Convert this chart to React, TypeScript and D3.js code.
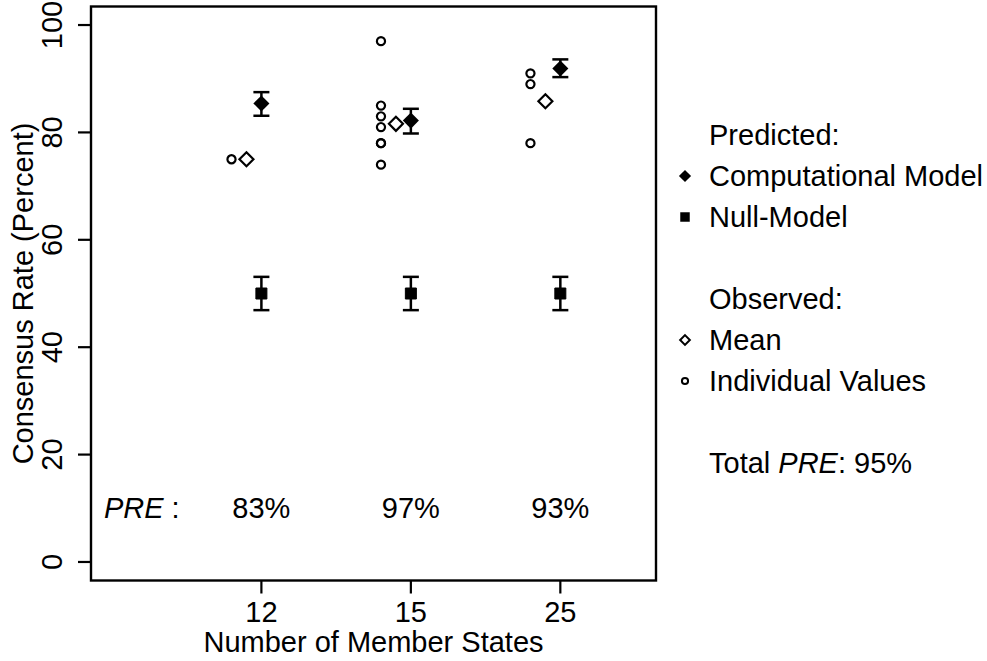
import React, { useEffect } from "react";
import * as d3 from "d3";

// group labels on the x axis
const categories = ["12", "15", "25"];
// predicted by the computational model, with error bars
const predicted = [85.4, 82.2, 91.9];
const predictedLow = [83.1, 79.8, 90.3];
const predictedHigh = [87.5, 84.4, 93.6];
// null model, with error bars
const nullModel = [50, 50, 50];
const nullLow = [46.9, 46.9, 46.9];
const nullHigh = [53.1, 53.1, 53.1];
// observed
const observedMean = [75, 81.6, 85.8];
const individual = [[75], [97, 85, 83, 81, 78, 78, 74], [91, 89, 78]];
const preLabels = ["83%", "97%", "93%"];
const totalPre = "95%";
const yTicks = [0, 20, 40, 60, 80, 100];

const W = 987;
const H = 661;
const FONT = "'Liberation Sans', Arial, Helvetica, sans-serif";
const FS = 29;

const box = { left: 91, right: 656, top: 6.5, bottom: 580.5 };

export default function App() {
  useEffect(() => {
    document.body.style.margin = "0";
  }, []);

  const x = d3.scaleLinear().domain([-0.14, 3.64]).range([box.left, box.right]);
  const y = d3.scaleLinear().domain([-3.45, 103.45]).range([box.bottom, box.top]);

  const diamondBig = d3.symbol().type(d3.symbolDiamond2).size(165)()!;
  const diamondOpen = d3.symbol().type(d3.symbolDiamond2).size(125)()!;
  const square = d3.symbol().type(d3.symbolSquare).size(121)()!;
  const circle = d3.symbol().type(d3.symbolCircle).size(52)()!;

  const legDiamond = d3.symbol().type(d3.symbolDiamond2).size(95)()!;
  const legDiamondOpen = d3.symbol().type(d3.symbolDiamond2).size(60)()!;
  const legSquare = d3.symbol().type(d3.symbolSquare).size(90)()!;
  const legCircle = d3.symbol().type(d3.symbolCircle).size(30)()!;

  const capW = 8;
  const errorBar = (cx: number, lo: number, hi: number, key: string) => (
    <g key={key} stroke="#000" strokeWidth={2.5}>
      <line x1={cx} x2={cx} y1={y(lo)} y2={y(hi)} />
      <line x1={cx - capW} x2={cx + capW} y1={y(lo)} y2={y(lo)} />
      <line x1={cx - capW} x2={cx + capW} y1={y(hi)} y2={y(hi)} />
    </g>
  );

  const legendX = 685;
  const legendTextX = 709;
  const rowY = (i: number) => 135 + i * 41;

  return (
    <svg width={W} height={H} style={{ display: "block", background: "#fff" }} fontFamily={FONT}>
      {/* plot box */}
      <rect
        x={box.left}
        y={box.top}
        width={box.right - box.left}
        height={box.bottom - box.top}
        fill="none"
        stroke="#000"
        strokeWidth={2.4}
      />

      {/* y axis */}
      {yTicks.map((t) => (
        <g key={t}>
          <line x1={box.left - 13} x2={box.left} y1={y(t)} y2={y(t)} stroke="#000" strokeWidth={2.2} />
          <text
            transform={`translate(62,${y(t)}) rotate(-90)`}
            textAnchor="middle"
            fontSize={FS}
            fill="#000"
          >
            {t}
          </text>
        </g>
      ))}
      <text
        transform={`translate(33,${(box.top + box.bottom) / 2}) rotate(-90)`}
        textAnchor="middle"
        fontSize={FS}
        fill="#000"
      >
        Consensus Rate (Percent)
      </text>

      {/* x axis */}
      {categories.map((c, i) => (
        <g key={c}>
          <line x1={x(i + 1)} x2={x(i + 1)} y1={box.bottom} y2={box.bottom + 13} stroke="#000" strokeWidth={2.2} />
          <text x={x(i + 1)} y={622} textAnchor="middle" fontSize={FS} fill="#000">
            {c}
          </text>
        </g>
      ))}
      <text x={(box.left + box.right) / 2} y={652} textAnchor="middle" fontSize={FS} fill="#000">
        Number of Member States
      </text>

      {/* null model */}
      {nullModel.map((v, i) => (
        <g key={"n" + i}>
          {errorBar(x(i + 1), nullLow[i], nullHigh[i], "ne" + i)}
          <path d={square} transform={`translate(${x(i + 1)},${y(v)})`} fill="#000" stroke="#000" strokeWidth={1} strokeLinejoin="round" />
        </g>
      ))}

      {/* computational model */}
      {predicted.map((v, i) => (
        <g key={"p" + i}>
          {errorBar(x(i + 1), predictedLow[i], predictedHigh[i], "pe" + i)}
          <path d={diamondBig} transform={`translate(${x(i + 1)},${y(v)})`} fill="#000" />
        </g>
      ))}

      {/* observed means */}
      {observedMean.map((v, i) => (
        <path
          key={"m" + i}
          d={diamondOpen}
          transform={`translate(${x(i + 1 - 0.1)},${y(v)})`}
          fill="none"
          stroke="#000"
          strokeWidth={2.2}
        />
      ))}

      {/* individual values */}
      {individual.map((vals, i) =>
        vals.map((v, j) => (
          <path
            key={`c${i}-${j}`}
            d={circle}
            transform={`translate(${x(i + 1 - 0.2)},${y(v)})`}
            fill="none"
            stroke="#000"
            strokeWidth={2.2}
          />
        ))
      )}

      {/* PRE row */}
      <text x={x(0.2)} y={y(10)} dy="0.35em" textAnchor="middle" fontSize={FS} fill="#000">
        <tspan fontStyle="italic">PRE</tspan>
        <tspan> :</tspan>
      </text>
      {preLabels.map((p, i) => (
        <text key={"pre" + i} x={x(i + 1)} y={y(10)} dy="0.35em" textAnchor="middle" fontSize={FS} fill="#000">
          {p}
        </text>
      ))}

      {/* legend */}
      <g fontSize={FS} fill="#000">
        <text x={legendTextX} y={rowY(0)} dy="0.35em">Predicted:</text>
        <path d={legDiamond} transform={`translate(${legendX},${rowY(1)})`} fill="#000" />
        <text x={legendTextX} y={rowY(1)} dy="0.35em">Computational Model</text>
        <path d={legSquare} transform={`translate(${legendX},${rowY(2)})`} fill="#000" />
        <text x={legendTextX} y={rowY(2)} dy="0.35em">Null-Model</text>
        <text x={legendTextX} y={rowY(4)} dy="0.35em">Observed:</text>
        <path d={legDiamondOpen} transform={`translate(${legendX},${rowY(5)})`} fill="none" stroke="#000" strokeWidth={2} />
        <text x={legendTextX} y={rowY(5)} dy="0.35em">Mean</text>
        <path d={legCircle} transform={`translate(${legendX},${rowY(6)})`} fill="none" stroke="#000" strokeWidth={2} />
        <text x={legendTextX} y={rowY(6)} dy="0.35em">Individual Values</text>
        <text x={legendTextX} y={rowY(8)} dy="0.35em">
          Total <tspan fontStyle="italic">PRE</tspan>: {totalPre}
        </text>
      </g>
    </svg>
  );
}
